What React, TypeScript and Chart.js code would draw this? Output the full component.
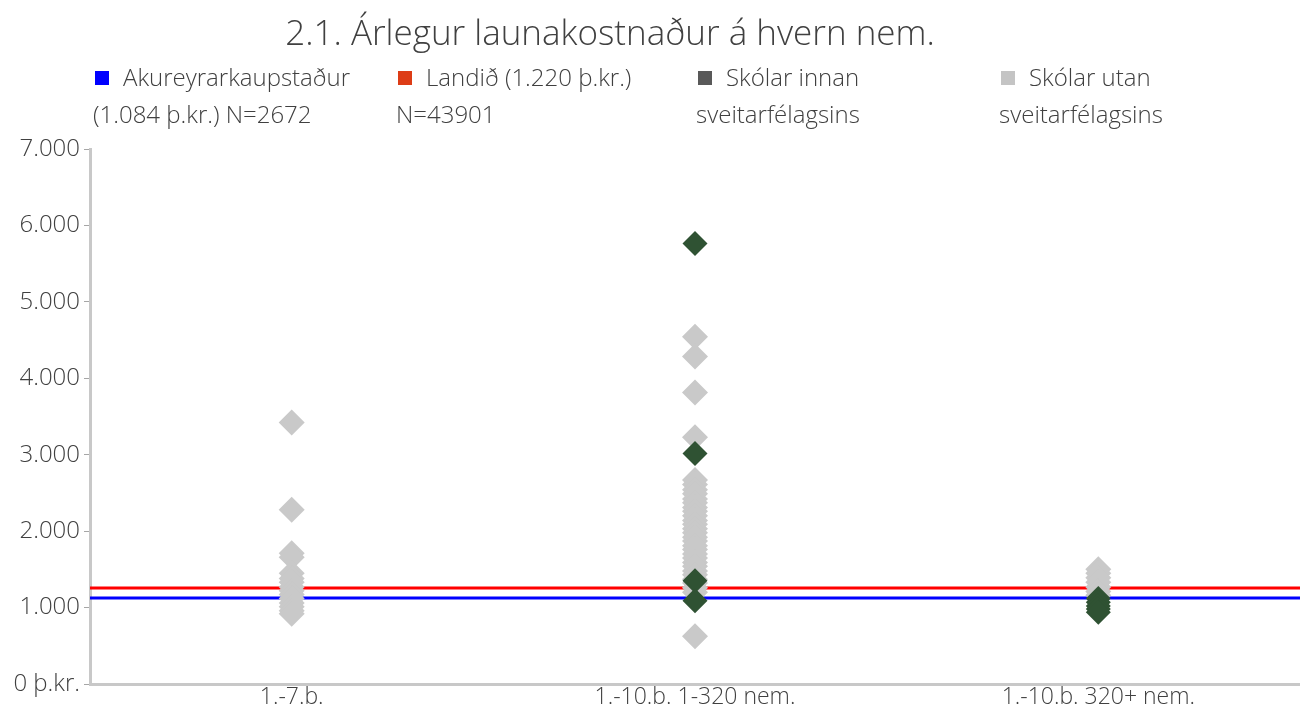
import React, { useEffect, useRef } from "react";
import { Chart, registerables } from "chart.js";

Chart.register(...registerables);

const FONT = "'Open Sans', sans-serif";
const TEXT_COLOR = "#404040";

const title = "2.1. Árlegur launakostnaður á hvern nem.";
const categories = ["1.-7.b.", "1.-10.b. 1-320 nem.", "1.-10.b. 320+ nem."];

// Skólar utan sveitarfélagsins (light grey), one list per category
const utanCat1 = [3420, 2280, 1710, 1660, 1450, 1380, 1330, 1270, 1220, 1170, 1120, 1060, 1010, 960, 920];
const utanCat2 = [
  4545, 4285, 3815, 3230, 2670, 2610, 2540, 2490, 2420, 2370, 2310, 2260, 2200, 2140, 2090, 2030,
  1980, 1920, 1870, 1810, 1760, 1700, 1650, 1590, 1540, 1480, 1430, 1370, 1320, 1260, 1200, 625,
];
const utanCat3 = [1500, 1450, 1390, 1330, 1270, 1210, 1160];

// Skólar innan sveitarfélagsins (dark green)
const innanCat1: number[] = [];
const innanCat2 = [5765, 3015, 1350, 1090];
const innanCat3 = [1120, 1070, 1020, 980, 940];

// Reference lines
const akureyriValue = 1125;
const landidValue = 1255;

const yMin = 0;
const yMax = 7000;
const yStep = 1000;

const legendItems = [
  { lines: ["Akureyrarkaupstaður", "(1.084 þ.kr.) N=2672"], color: "#0000ff" },
  { lines: ["Landið (1.220 þ.kr.)", "N=43901"], color: "#dd3c16" },
  { lines: ["Skólar innan", "sveitarfélagsins"], color: "#595959" },
  { lines: ["Skólar utan", "sveitarfélagsins"], color: "#c4c4c4" },
];
const legendLefts = [93, 396, 696, 999];

function toPoints(lists: number[][]) {
  const pts: { x: number; y: number }[] = [];
  lists.forEach((list, i) => list.forEach((v) => pts.push({ x: i, y: v })));
  return pts;
}

function fmt(v: number) {
  if (v === 0) return "0 þ.kr.";
  return v.toString().replace(/\B(?=(\d{3})+(?!\d))/g, ".");
}

export default function App() {
  const canvasRef = useRef<HTMLCanvasElement | null>(null);

  useEffect(() => {
    if (!canvasRef.current) return;
    const lineX = [-0.5, categories.length - 0.5];
    const chart = new Chart(canvasRef.current, {
      type: "scatter",
      data: {
        datasets: [
          {
            label: "Skólar innan sveitarfélagsins",
            data: toPoints([innanCat1, innanCat2, innanCat3]),
            pointStyle: "rectRot",
            pointRadius: 12.5,
            backgroundColor: "#2f5233",
            borderWidth: 0,
            order: 0,
          },
          {
            label: "Skólar utan sveitarfélagsins",
            data: toPoints([utanCat1, utanCat2, utanCat3]),
            pointStyle: "rectRot",
            pointRadius: 13,
            backgroundColor: "#c9c9c9",
            borderWidth: 0,
            order: 1,
          },
          {
            type: "line",
            label: "Landið",
            data: lineX.map((x) => ({ x, y: landidValue })),
            borderColor: "#ff0000",
            borderWidth: 3,
            pointRadius: 0,
            order: 2,
          } as any,
          {
            type: "line",
            label: "Akureyrarkaupstaður",
            data: lineX.map((x) => ({ x, y: akureyriValue })),
            borderColor: "#0000ff",
            borderWidth: 3,
            pointRadius: 0,
            order: 2,
          } as any,
        ],
      },
      options: {
        responsive: false,
        animation: false,
        layout: { autoPadding: false, padding: { top: 149, left: 0, right: 0, bottom: 0 } },
        plugins: {
          legend: { display: false },
          title: { display: false },
          tooltip: { enabled: false },
        },
        scales: {
          x: {
            type: "linear",
            min: -0.5,
            max: categories.length - 0.5,
            afterBuildTicks: (scale: any) => {
              scale.ticks = categories.map((_, i) => ({ value: i }));
            },
            afterFit: (scale: any) => {
              scale.height = 29;
            },
            grid: { display: true, drawOnChartArea: false, drawTicks: false },
            border: { display: true, color: "#c8c8c8", width: 3 },
            ticks: {
              autoSkip: false,
              maxRotation: 0,
              padding: 0,
              color: TEXT_COLOR,
              font: { family: FONT, size: 23, weight: "300" },
              callback: (v: any) => categories[Math.round(Number(v))] ?? "",
            },
          },
          y: {
            type: "linear",
            min: yMin,
            max: yMax,
            afterFit: (scale: any) => {
              scale.width = 90;
            },
            grid: {
              display: true,
              drawOnChartArea: false,
              drawTicks: true,
              tickLength: 6,
              color: "#a6a6a6",
            },
            border: { display: true, color: "#c8c8c8", width: 3 },
            ticks: {
              stepSize: yStep,
              padding: 4,
              color: TEXT_COLOR,
              font: { family: FONT, size: 24, weight: "300" },
              callback: (v: any) => fmt(Number(v)),
            },
          },
        },
      },
    });
    return () => chart.destroy();
  }, []);

  return (
    <div
      style={{
        position: "absolute",
        left: 0,
        top: 0,
        width: 1300,
        height: 713,
        background: "#ffffff",
        fontFamily: FONT,
        color: TEXT_COLOR,
      }}
    >
      <canvas
        ref={canvasRef}
        width={1300}
        height={713}
        style={{ position: "absolute", left: 0, top: 0, display: "block" }}
      />
      <div
        style={{
          position: "absolute",
          left: 0,
          top: 8,
          width: 1220,
          textAlign: "center",
          fontSize: 35,
          fontWeight: 300,
          lineHeight: "48px",
          whiteSpace: "nowrap",
        }}
      >
        {title}
      </div>
      {legendItems.map((item, i) => (
        <div
          key={i}
          style={{
            position: "absolute",
            left: legendLefts[i],
            top: 58,
            fontSize: 24,
            fontWeight: 300,
            lineHeight: "37px",
            whiteSpace: "nowrap",
          }}
        >
          <span
            style={{
              display: "inline-block",
              width: 14,
              height: 14,
              background: item.color,
              marginLeft: 2,
              marginRight: 14,
              verticalAlign: "middle",
              position: "relative",
              top: -2,
            }}
          />
          {item.lines[0]}
          <br />
          {item.lines[1]}
        </div>
      ))}
    </div>
  );
}
